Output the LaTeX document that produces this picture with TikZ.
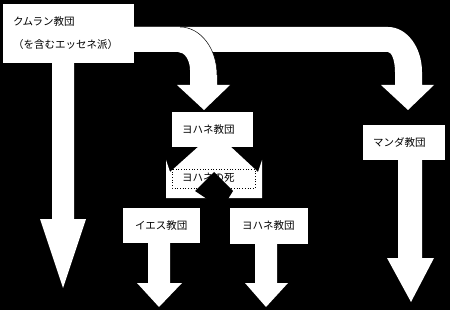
\documentclass[tikz,border=0pt]{standalone}
\usepackage{fontspec}
\setmainfont{Noto Sans CJK JP}
\begin{document}
\begin{tikzpicture}[x=1pt,y=-1pt,
  box/.style={fill=white, draw=none, rectangle, inner sep=0pt, align=left, text=black,
    font=\fontsize{10.5}{23}\selectfont},
  blockarrow/.style={fill=white, draw=none},
  lbl/.style={inner sep=0pt, anchor=west, text=black, font=\fontsize{10.5}{13}\selectfont}]
\fill[black] (0,0) rectangle (450,310);
\useasboundingbox (0,0) rectangle (450,310);

% ---- block arrows (behind the boxes) ----
% left long arrow
\fill[blockarrow] (52,60) -- (74,60) -- (74,219) -- (86,219) -- (63,288) -- (40,219) -- (52,219) -- cycle;
% band to the Mandaeans
\fill[blockarrow] (130,27) -- (388,27) arc[start angle=-90,end angle=0,x radius=34,y radius=45]
  -- (422,85) -- (434,85) -- (408,110) -- (381,85) -- (395,85) -- (395,72)
  arc[start angle=0,end angle=-90,x radius=7,y radius=20] -- (130,52) -- cycle;
% branch to the John group
\fill[blockarrow] (130,27) -- (180,27) arc[start angle=-90,end angle=0,x radius=37,y radius=48]
  -- (217,85) -- (230,85) -- (204,110) -- (177,85) -- (190,85) -- (190,70)
  arc[start angle=0,end angle=-90,x radius=12,y radius=18] -- (130,52) -- cycle;
\draw[black, line width=0.5pt] (180,27) arc[start angle=-90,end angle=0,x radius=37,y radius=48];
% Mandaean arrow down
\fill[blockarrow] (398,158) -- (422,158) -- (422,258) -- (434,258) -- (411,302) -- (387,258) -- (398,258) -- cycle;
% split region (death of John)
\fill[white] (199,146) -- (230,146) -- (258,172) -- (262,160) -- (262,198) -- (166,198) -- (166,160) -- (170,172) -- cycle;
\draw[black, dotted, line width=0.7pt] (172,169) rectangle (255,188);
\node[lbl] (death) at (182,178) {ヨハネの死};
\fill[black] (214,172) -- (233,191) -- (228,199) -- (207,199) -- (195,191) -- cycle;
% lower arrows
\fill[blockarrow] (148,241) -- (170,241) -- (170,283) -- (182,283) -- (159,307) -- (137,283) -- (148,283) -- cycle;
\fill[blockarrow] (255,241) -- (277,241) -- (277,283) -- (288,283) -- (266,307) -- (245,283) -- (255,283) -- cycle;

% ---- boxes ----
\node[box, minimum width=131pt, minimum height=59pt, text width=111pt] (kumran) at (68.5,33.5)
  {クムラン教団\\（を含むエッセネ派）};
\node[box, minimum width=81pt, minimum height=35pt, text width=61pt] (yohaneA) at (212.5,129.5) {ヨハネ教団};
\node[box, minimum width=82pt, minimum height=35pt, text width=62pt] (manda) at (404,142.5) {マンダ教団};
\node[box, minimum width=77pt, minimum height=35pt, text width=53pt] (iesu) at (161.5,225.5) {イエス教団};
\node[box, minimum width=78pt, minimum height=36pt, text width=54pt] (yohaneB) at (269,226) {ヨハネ教団};
\end{tikzpicture}
\end{document}
